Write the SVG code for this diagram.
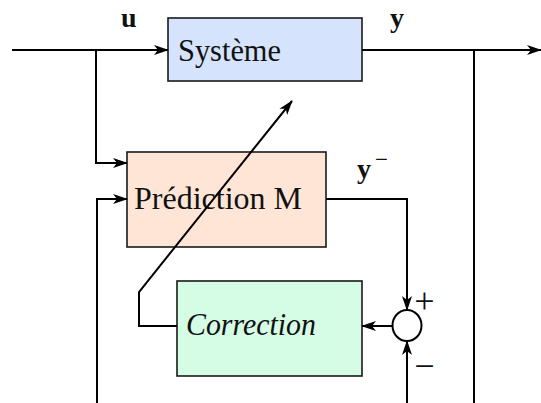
<svg xmlns="http://www.w3.org/2000/svg" width="541" height="403" viewBox="0 0 541 403">
<style>
.box{stroke:#1a1a1a;stroke-width:1.6}
.ln{fill:none;stroke:#000;stroke-width:2}
.t{font-family:"Liberation Serif","DejaVu Serif",serif;fill:#111}
</style>
<defs>
<marker id="ah" markerUnits="userSpaceOnUse" markerWidth="15" markerHeight="12" refX="14" refY="5" orient="auto" viewBox="0 0 15 10">
<path d="M0,0 L15,5 L0,10 L4,5 z" fill="#000"/>
</marker>
</defs>
<rect width="541" height="403" fill="#fff"/>
<g id="systeme">
<rect class="box" x="168" y="18" width="194" height="63" fill="#d5e4fc"/>
<text class="t" x="178" y="61" font-size="32" textLength="103" lengthAdjust="spacingAndGlyphs">Système</text>
</g>
<g id="prediction">
<rect class="box" x="127" y="152" width="199" height="95" fill="#ffe5d5"/>
<text class="t" x="134" y="209" font-size="32" textLength="168" lengthAdjust="spacingAndGlyphs">Prédiction M</text>
</g>
<g id="correction">
<rect class="box" x="177" y="281" width="185" height="95" fill="#d5fce5"/>
<text class="t" x="186" y="335" font-size="31" font-style="italic" textLength="130" lengthAdjust="spacingAndGlyphs">Correction</text>
</g>
<g id="sum">
<ellipse cx="407" cy="325.5" rx="14.5" ry="15.5" fill="#fff" stroke="#000" stroke-width="2"/>
<text class="t" x="424.5" y="313" font-size="36" text-anchor="middle">+</text>
<text class="t" x="424.5" y="378" font-size="36" text-anchor="middle">−</text>
</g>
<g id="labels">
<text class="t" x="121" y="27" font-size="28" font-weight="bold">u</text>
<text class="t" x="390" y="27" font-size="28" font-weight="bold">y</text>
<text class="t" x="357" y="178" font-size="28" font-weight="bold">y</text>
<text class="t" x="375" y="167" font-size="23">−</text>
</g>
<g id="connectors">
<path class="ln" d="M12,50 H168" marker-end="url(#ah)"/>
<path class="ln" d="M362,50 H541" marker-end="url(#ah)"/>
<path class="ln" d="M96,50 V163 H127" marker-end="url(#ah)"/>
<path class="ln" d="M97,403 V199 H127" marker-end="url(#ah)"/>
<path class="ln" d="M474,50 V403"/>
<path class="ln" d="M326,199 H407 V310" marker-end="url(#ah)"/>
<path class="ln" d="M407,403 V341" marker-end="url(#ah)"/>
<path class="ln" d="M392,326 H362" marker-end="url(#ah)"/>
<path class="ln" d="M177,326 H139 V292 L292,101" marker-end="url(#ah)"/>
</g>
</svg>
